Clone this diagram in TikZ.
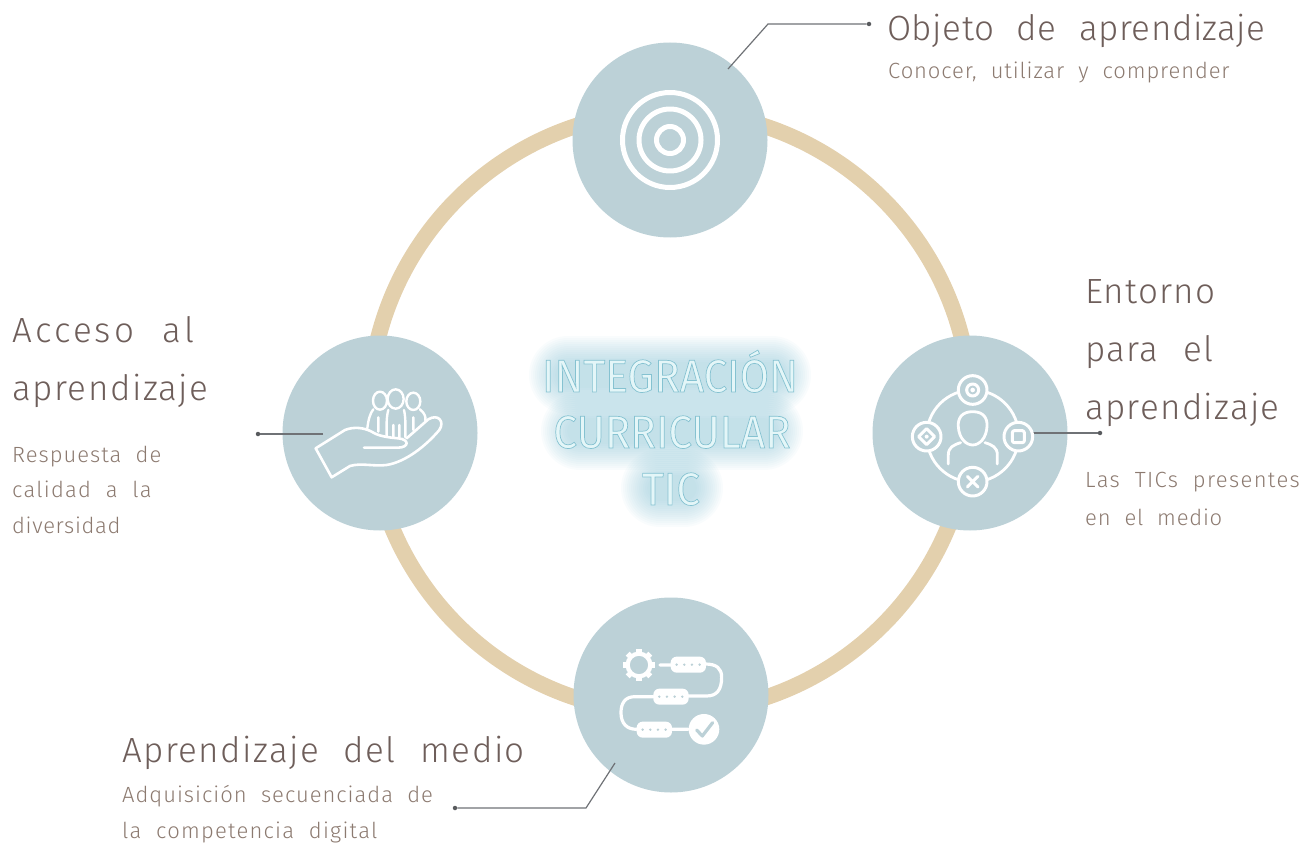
\documentclass[tikz,border=0pt]{standalone}
\usepackage{fontspec}
\setmainfont{Fira Sans}[UprightFont=* Light]
\newfontfamily\hdfont{Fira Sans}[UprightFont=* Light,LetterSpace=1.5,WordSpace=2.2]
\newfontfamily\subfont{Fira Sans}[UprightFont=* Light,LetterSpace=4.5,WordSpace=2]
\newfontfamily\midfont{Fira Sans}[FakeStretch=0.92]
\newcommand{\outl}[1]{\special{pdf:code 2 Tr 0.7 w 0.52 0.76 0.82 RG}#1\special{pdf:code 0 Tr}}
\newcommand{\lsp}[1]{\addfontfeature{LetterSpace=#1}}
\definecolor{disc}{HTML}{BCD1D7}
\definecolor{ringc}{HTML}{E3D0AD}
\definecolor{headc}{HTML}{6E5E5A}
\definecolor{subc}{HTML}{8C7A70}
\definecolor{linec}{HTML}{6F7276}
\definecolor{glowc}{HTML}{7FBDD0}
\definecolor{midc}{HTML}{E4F6F8}
\tikzset{
  disco/.style={circle,fill=disc,minimum size=195,inner sep=0},
  ringo/.style={circle,draw=ringc,line width=16,minimum size=602,inner sep=0},
  head/.style={anchor=base west,inner sep=0,text=headc,font=\hdfont\fontsize{35}{35}\selectfont},
  subt/.style={anchor=base west,inner sep=0,text=subc,font=\subfont\fontsize{22}{22}\selectfont},
  midt/.style={anchor=base,inner sep=0,text=midc,font=\midfont\fontsize{46}{46}\selectfont},
  conn/.style={draw=linec,line width=1.2},
  dotn/.style={circle,fill=linec!80!black,minimum size=4.5,inner sep=0},
  ico/.style={draw=white,line width=5,line cap=round,line join=round},
  icof/.style={draw=white,line width=4.5,line cap=round,line join=round},
  glowl/.style={glowc,line cap=round,opacity=0.045},
}
\begin{document}
\begin{tikzpicture}[x=1pt,y=-1pt]
\useasboundingbox (0,0) rectangle (1314,845);
\node[ringo] (ring) at (670,412) {};
\node[disco] (top) at (670,140) {};
\node[disco] (left) at (380,433) {};
\node[disco] (right) at (970,433) {};
\node[disco] (bot) at (671,695) {};
% glow
\foreach \w in {26,30,...,78}{
  \draw[glowl,line width=\w] (568,375) -- (772,375);
  \draw[glowl,line width=\w] (580,431) -- (764,431);
  \draw[glowl,line width=\w] (660,488) -- (684,488);
}
\node[midt] (m1) at (670,392) {\outl{INTEGRACIÓN}};
\node[midt] (m2) at (672,448) {\outl{CURRICULAR}};
\node[midt] (m3) at (671,505) {\outl{TIC}};
% target
\draw[ico] (670,140) circle (47.5) (670,140) circle (31) (670,140) circle (13.5);
% connectors
\coordinate (topin) at (728,69);
\coordinate (topk) at (768,24);
\node[dotn] (topd) at (869,24) {};
\draw[conn] (topin) -- (topk) -- (topd);
\coordinate (leftin) at (323,434);
\node[dotn] (leftd) at (258,434) {};
\draw[conn] (leftin) -- (leftd);
\coordinate (rightin) at (1033,433);
\node[dotn] (rightd) at (1100,433) {};
\draw[conn] (rightin) -- (rightd);
\coordinate (botin) at (615,763);
\coordinate (botk) at (586,808);
\node[dotn] (botd) at (455,808) {};
\draw[conn] (botin) -- (botk) -- (botd);
% hand icon
\begin{scope}[shift={(250,330)},x=0.3333pt,y=-0.3333pt]
\draw[icof,line width=2.6] (197,355) -- (285,300) .. controls (310,290) and (340,292) .. (365,305)
 .. controls (385,318) and (410,322) .. (445,325) .. controls (478,328) and (478,352) .. (445,353) -- (342,353);
\draw[icof,line width=2.6] (197,355) -- (245,442) -- (300,408) .. controls (335,398) and (370,410) .. (410,405)
 .. controls (470,395) and (530,345) .. (568,300) .. controls (585,275) and (565,250) .. (535,268) -- (470,325);
\draw[icof,line width=2.4] (390,212) ellipse (21 and 27) (437,207) ellipse (24 and 29) (490,214) ellipse (21 and 26);
\draw[icof,line width=2.4] (370,238) .. controls (360,250) and (355,270) .. (352,295)
 (415,240) .. controls (408,265) and (410,295) .. (410,318)
 (462,240) .. controls (468,265) and (466,295) .. (466,322)
 (510,238) .. controls (525,250) and (528,262) .. (526,272)
 (385,262) -- (385,305) (430,285) -- (430,322) (448,285) -- (448,322) (490,262) -- (490,300);
\end{scope}
% network icon
\begin{scope}[shift={(890,330)},x=0.3333pt,y=-0.3333pt]
\draw[icof,line width=2.8] (248,318) circle (138);
\foreach \p in {(248,180),(110,320),(385,320),(248,455)}{\fill[disc] \p circle (43); \draw[icof,line width=3] \p circle (43);}
\draw[icof,line width=3] (248,180) circle (18);
\fill[white] (248,180) circle (7);
\draw[icof,line width=3] (110,296) -- (134,320) -- (110,344) -- (86,320) -- cycle;
\fill[white] (110,320) circle (6);
\draw[icof,line width=3,rounded corners=2] (367,302) rectangle (403,338);
\draw[icof,line width=3] (232,439) -- (264,471) (264,439) -- (232,471);
\draw[icof,line width=2.8] (248,245) .. controls (215,245) and (203,265) .. (205,290) .. controls (207,325) and (228,345) .. (248,345)
 .. controls (268,345) and (289,325) .. (291,290) .. controls (293,265) and (281,245) .. (248,245);
\draw[icof,line width=2.8] (175,402) -- (175,375) .. controls (175,352) and (190,345) .. (212,338);
\draw[icof,line width=2.8] (322,402) -- (322,375) .. controls (322,352) and (307,345) .. (285,338);
\end{scope}
% flow icon
\begin{scope}[shift={(440,590)},x=0.3333pt,y=-0.3333pt]
\foreach \a in {0,45,...,315}{\draw[white,line width=5.5] (597,225) ++(\a:32) -- ++(\a:16);}
\draw[white,line width=4.2] (597,225) circle (34);
\draw[icof,line width=3.2] (660,225) -- (695,225) (795,222) .. controls (830,222) and (845,235) .. (845,262) .. controls (845,300) and (830,318) .. (800,318) -- (745,318)
 (640,320) -- (585,320) .. controls (555,320) and (543,340) .. (543,368) .. controls (543,400) and (560,418) .. (590,418)
 (695,418) -- (745,418);
\foreach \x/\y in {692/200,640/296,590/395}{
  \fill[white,rounded corners=6] (\x,\y) rectangle ++(106,48);
  \foreach \d in {18,41,64,87}{\fill[disc] (\x+\d,\y+24) circle (4);}
}
\fill[white] (792,418) circle (46);
\draw[disc,line width=3.2,line cap=round,line join=round] (770,420) -- (787,438) -- (818,398);
\end{scope}
% labels
\node[head] (t1) at (887,41) {Objeto de aprendizaje};
\node[subt] (s1) at (888,79) {\lsp{4}Conocer, utilizar y comprender};
\node[head] (t2a) at (12,342) {\lsp{9}Acceso al};
\node[head] (t2b) at (12,400) {\lsp{4.4}aprendizaje};
\node[subt] (s2a) at (12,462) {Respuesta de};
\node[subt] (s2b) at (12,497) {\lsp{5.7}calidad a la};
\node[subt] (s2c) at (12,533) {\lsp{3}diversidad};
\node[head] (t3a) at (1085,303) {\lsp{3.4}Entorno};
\node[head] (t3b) at (1085,361) {\lsp{3.9}para el};
\node[head] (t3c) at (1085,419) {\lsp{3.8}aprendizaje};
\node[subt] (s3a) at (1085,487) {\lsp{6.1}Las TICs presentes};
\node[subt] (s3b) at (1085,525) {\lsp{3.6}en el medio};
\node[head] (t4) at (122,762) {\lsp{4.2}Aprendizaje del medio};
\node[subt] (s4a) at (122,802) {Adquisición secuenciada de};
\node[subt] (s4b) at (122,838) {\lsp{5.6}la competencia digital};
\end{tikzpicture}
\end{document}
